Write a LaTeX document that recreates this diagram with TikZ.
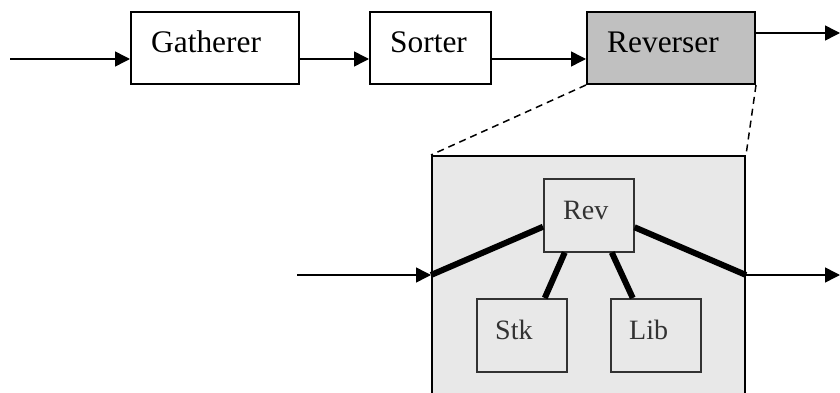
\documentclass[tikz,border=0pt]{standalone}
\usepackage{fontspec}
\setmainfont{Liberation Serif}
\usetikzlibrary{arrows.meta}
\definecolor{revgray}{RGB}{192,192,192}
\definecolor{stipple}{RGB}{232,232,232}
\definecolor{innergray}{RGB}{50,50,50}
\begin{document}
\begin{tikzpicture}[x=1pt,y=-1pt,
  box/.style={draw=black, line width=2pt, fill=white, inner sep=0pt, anchor=north west},
  toplbl/.style={font=\fontsize{31.4}{36}\selectfont, inner sep=0pt, anchor=base west},
  inbox/.style={draw=innergray, line width=1.5pt, fill=stipple, inner sep=0pt, anchor=north west, minimum width=90pt, minimum height=73pt},
  inlbl/.style={font=\fontsize{28}{33}\selectfont, text=innergray, inner sep=0pt, anchor=base west},
  arr/.style={line width=1.5pt, -{Triangle[length=15pt,width=15pt]}},
  link/.style={line width=6pt},
  zoomline/.style={line width=1.5pt, dash pattern=on 7pt off 5pt}]
\useasboundingbox (0,0) rectangle (840,393);
\clip (0,0) rectangle (840,393);
% top chain
\node[box, minimum width=168pt, minimum height=72pt] (gath) at (130,11) {};
\node[box, minimum width=121pt, minimum height=72pt] (sort) at (369,11) {};
\node[box, fill=revgray, minimum width=168pt, minimum height=72pt] (rever) at (586,11) {};
\node[toplbl] (gatht) at (151,53) {Gatherer};
\node[toplbl] (sortt) at (390,53) {Sorter};
\node[toplbl] (revert) at (607,53) {Reverser};
\coordinate (in0) at (10,59);
\coordinate (out0) at (840,33);
\draw[arr] (in0) -- (in0 -| gath.west);
\draw[arr] (gath.east |- in0) -- (sort.west |- in0);
\draw[arr] (sort.east |- in0) -- (rever.west |- in0);
\draw[arr] (rever.east |- out0) -- (out0);
% zoomed box
\node[box, fill=stipple, minimum width=313pt, minimum height=260pt] (big) at (431,155) {};
\draw[zoomline] (rever.south west) -- (big.north west);
\draw[zoomline] (rever.south east) -- (big.north east);
\node[inbox] (rev) at (543,178) {};
\node[inbox] (stk) at (476,298) {};
\node[inbox] (lib) at (610,298) {};
\node[inlbl] (revt) at (563,219) {Rev};
\node[inlbl] (stkt) at (495,339) {Stk};
\node[inlbl] (libt) at (629,339) {Lib};
\coordinate (in1) at (297,275);
\coordinate (out1) at (840,275);
\draw[arr] (in1) -- (in1 -| big.west);
\draw[arr] (big.east |- out1) -- (out1);
\draw[link] (big.west |- in1) -- ([yshift=-11.5pt]rev.west);
\draw[link] ([yshift=-12pt]rev.east) -- (big.east |- out1);
\draw[link] ([xshift=-24pt]rev.south) -- ([xshift=23pt]stk.north);
\draw[link] ([xshift=23pt]rev.south) -- ([xshift=-23pt]lib.north);
\end{tikzpicture}
\end{document}
